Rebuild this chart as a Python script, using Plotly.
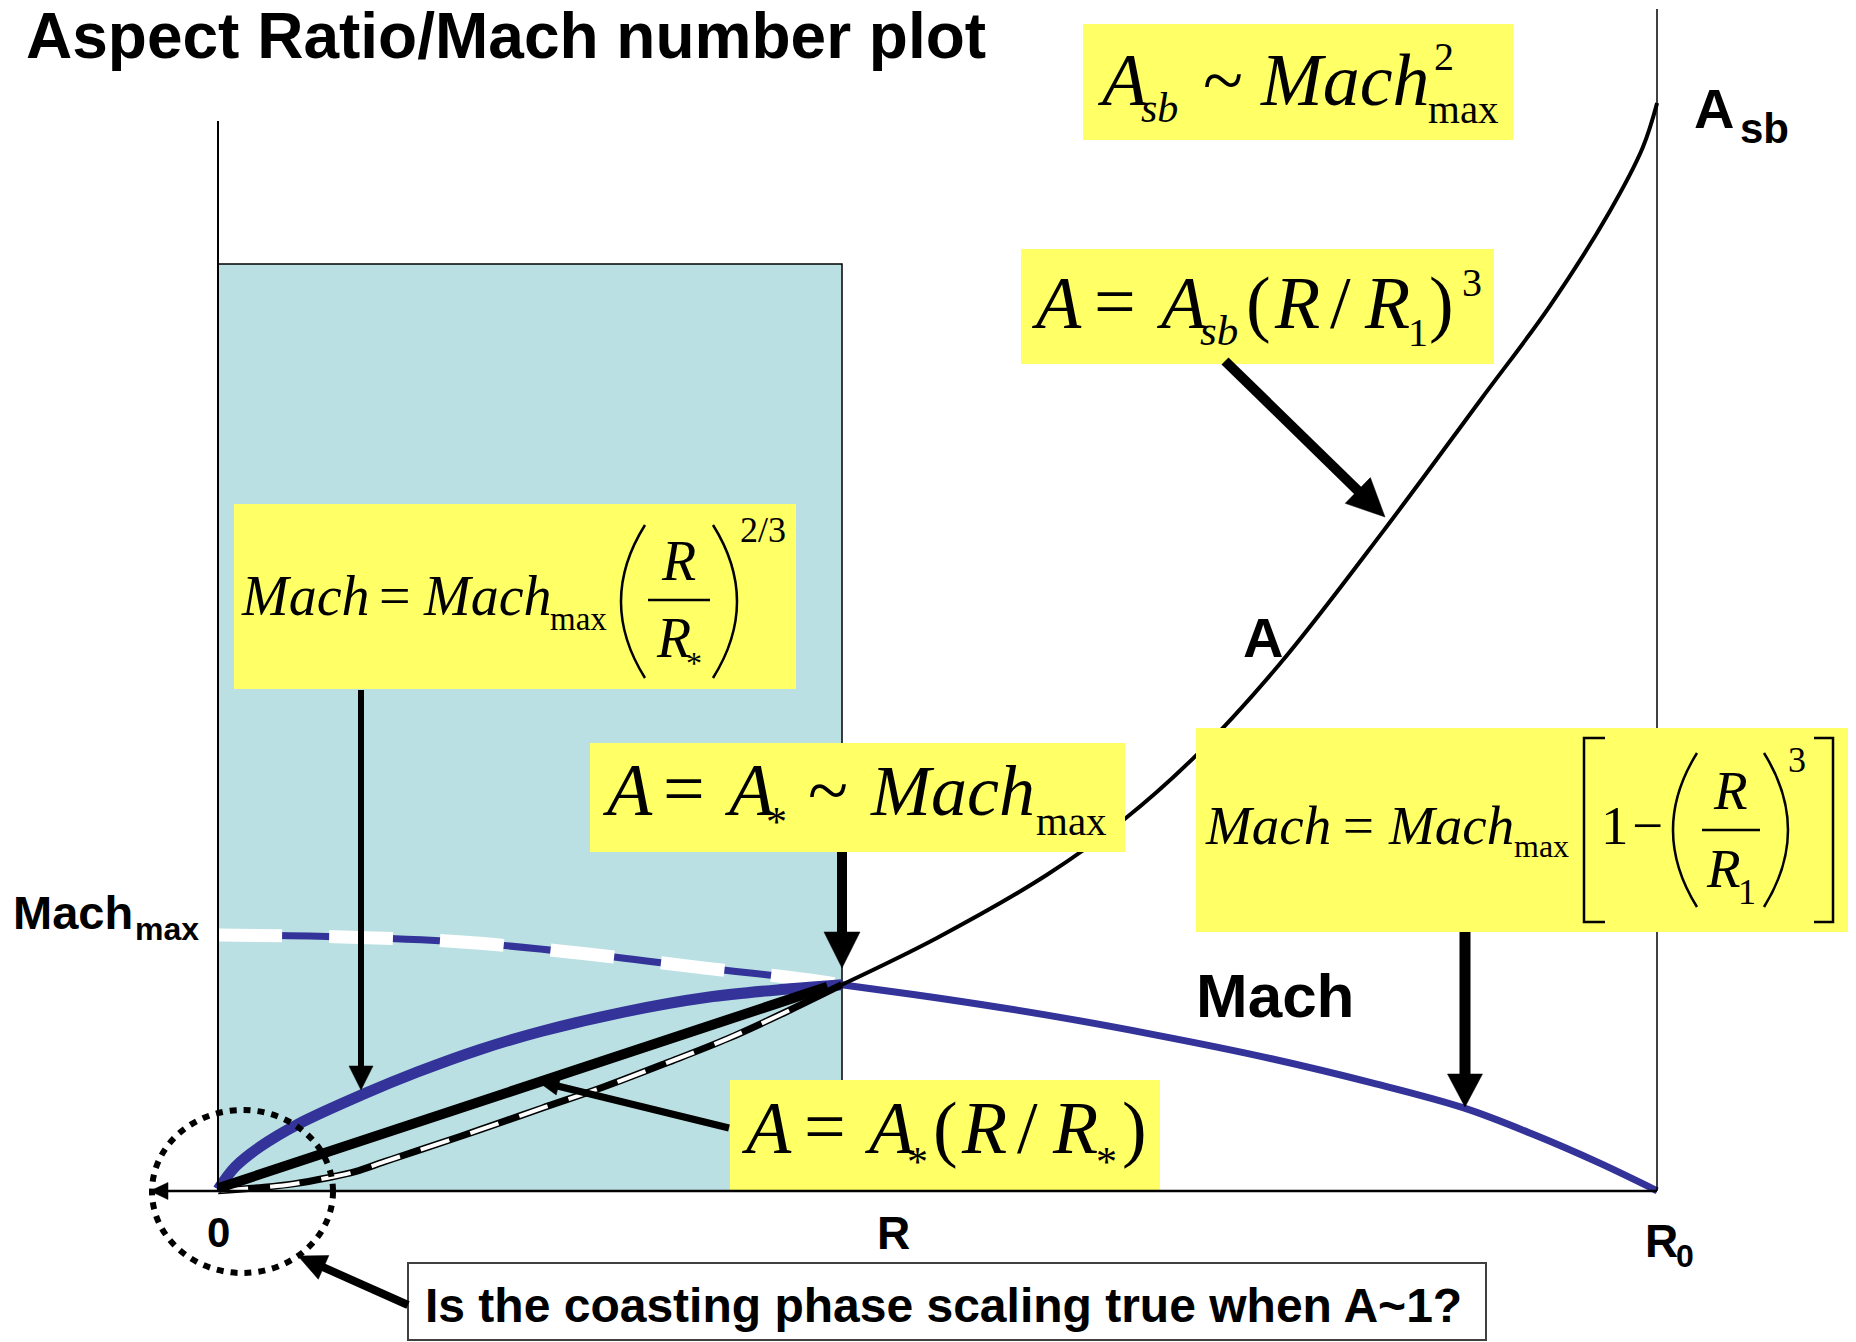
import math
import plotly.graph_objects as go

W, H = 1856, 1342
OFF = 8  # the page body margin pushes the figure 8px right and down

# x in units of R*, y in units of Mach_max (A curve shares the same y scale)
r_mach = [0.0, 0.187, 0.386, 0.585, 0.784, 0.917, 1.0, 1.154, 1.329, 1.502, 1.677, 1.850, 1.997, 2.111, 2.215, 2.307]
mach = [1.0, 0.994, 0.974, 0.928, 0.870, 0.834, 0.806, 0.754, 0.687, 0.610, 0.523, 0.422, 0.324, 0.218, 0.108, 0.0]

r_mach_coast = [0.0, 0.028, 0.068, 0.127, 0.234, 0.320, 0.419, 0.519, 0.652, 0.785, 0.917, 1.0]
mach_coast = [0.005, 0.095, 0.173, 0.259, 0.379, 0.465, 0.552, 0.624, 0.700, 0.757, 0.790, 0.806]

r_area = [1.0, 1.154, 1.329, 1.454, 1.571, 1.702, 1.868, 2.023, 2.135, 2.231, 2.284, 2.307]
area = [0.806, 0.991, 1.236, 1.455, 1.71, 2.06, 2.58, 3.09, 3.46, 3.83, 4.08, 4.254]

r_area_lin = [0.0, 0.977]
area_lin = [0.010, 0.798]

r_area_true = [0.0, 0.074, 0.121, 0.174, 0.220, 0.267, 0.320, 0.419, 0.519, 0.619, 0.718, 0.818, 0.917, 1.0]
area_true = [0.0, 0.014, 0.027, 0.050, 0.075, 0.114, 0.157, 0.238, 0.323, 0.407, 0.499, 0.596, 0.707, 0.806]

BLUE = "#333399"
YELLOW = "#FFFF66"
SHADE = "#BAE0E3"
SERIF = "Liberation Serif, Times New Roman, serif"
SANS = "Liberation Sans, Arial, sans-serif"


def px(x):
    return (x - OFF) / W


def py(y):
    return 1 - (y - OFF) / H


shapes = []
annotations = []


def rect(x0, y0, x1, y1, fill, line_color=None, lw=0, layer="above"):
    shapes.append(dict(type="rect", xref="paper", yref="paper",
                       x0=px(x0), x1=px(x1), y0=py(y1), y1=py(y0),
                       fillcolor=fill, layer=layer,
                       line=dict(color=line_color or fill, width=lw)))


def seg(x0, y0, x1, y1, w, color="black", layer="above"):
    shapes.append(dict(type="line", xref="paper", yref="paper",
                       x0=px(x0), y0=py(y0), x1=px(x1), y1=py(y1),
                       layer=layer, line=dict(color=color, width=w)))


def path(d, w=2.5, fill=None):
    shapes.append(dict(type="path", xref="paper", yref="paper", path=d, layer="above",
                       fillcolor=fill or "rgba(0,0,0,0)",
                       line=dict(color="black", width=w)))


def pt(x, y):
    return f"{px(x):.5f},{py(y):.5f}"


def arrow(x0, y0, x1, y1, w, hl, hw):
    dx, dy = x1 - x0, y1 - y0
    L = math.hypot(dx, dy)
    ux, uy = dx / L, dy / L
    bx, by = x1 - ux * hl, y1 - uy * hl
    seg(x0, y0, bx + ux * 3, by + uy * 3, w)
    nx, ny = -uy, ux
    d = (f"M {pt(x1, y1)} L {pt(bx + nx * hw / 2, by + ny * hw / 2)} "
         f"L {pt(bx - nx * hw / 2, by - ny * hw / 2)} Z")
    path(d, w=0.5, fill="black")


def paren(x_end, y0, y1, x_mid):
    xc = x_end + 2 * (x_mid - x_end)
    path(f"M {pt(x_end, y0)} Q {pt(xc, (y0 + y1) / 2)} {pt(x_end, y1)}", w=2.5)


def txt(s, x, base, size, style, anchor="left"):
    serif = style in ("i", "r")
    k = 0.3375 if serif else 0.3465
    if style == "i":
        s = f"<i>{s}</i>"
    elif style == "b":
        s = f"<b>{s}</b>"
    annotations.append(dict(x=px(x), y=py(base - k * size), xref="paper", yref="paper",
                            text=s, showarrow=False, xanchor=anchor, yanchor="middle",
                            borderpad=0, borderwidth=0,
                            font=dict(family=SERIF if serif else SANS, size=size, color="black")))


# background regions
rect(218, 264, 842, 1191, SHADE, "black", 1.5, layer="below")
seg(1657, 9, 1657, 1191, 1.5)

# yellow formula boxes
rect(1083, 24, 1513, 140, YELLOW)
rect(1021, 249, 1494, 364, YELLOW)
rect(234, 504, 796, 689, YELLOW)
rect(590, 743, 1125, 852, YELLOW)
rect(1196, 728, 1848, 932, YELLOW)
rect(730, 1080, 1160, 1190, YELLOW)

# axes
seg(218, 121, 218, 1191, 2)
seg(168, 1191, 1657, 1191, 2.5)
arrow(218, 1191, 150, 1191, 2, 18, 17)

# question box
rect(408, 1263, 1486, 1340, "white", "#404040", 2)

# dotted circle around origin
shapes.append(dict(type="circle", xref="paper", yref="paper", layer="above",
                   x0=px(152), x1=px(333), y0=py(1273), y1=py(1110),
                   line=dict(color="black", width=6, dash="7px,7px")))

# arrows
arrow(361, 690, 361, 1090, 6, 24, 24)
arrow(842, 852, 842, 968, 10, 36, 36)
arrow(1225, 361, 1385, 517, 10, 38, 36)
arrow(1465, 932, 1465, 1107, 11, 33, 35)
arrow(729, 1128, 537, 1081, 7, 22, 18)
arrow(408, 1305, 298, 1256, 8, 28, 26)

# title and labels
txt("Aspect Ratio/Mach number plot", 26, 58, 64, "b")
txt("Mach", 13, 929, 47, "b")
txt("max", 135, 940, 32, "b")
txt("0", 218, 1247, 42, "b", "center")
txt("R", 893, 1249, 46, "b", "center")
txt("R", 1645, 1257, 46, "b")
txt("0", 1676, 1267, 32, "b")
txt("A", 1694, 128, 56, "b")
txt("sb", 1740, 143, 42, "b")
txt("A", 1263, 657, 56, "b", "center")
txt("Mach", 1196, 1017, 62, "b")
txt("Is the coasting phase scaling true when A~1?", 425, 1322, 48, "b")

# box 1: A_sb ~ Mach^2_max
txt("A", 1097, 105, 74, "i")
txt("sb", 1141, 122, 42, "i")
txt("~", 1203, 105, 74, "r")
txt("Mach", 1260, 105, 74, "i")
txt("2", 1434, 70, 40, "r")
txt("max", 1428, 123, 41, "r")

# box 2: A = A_sb (R / R_1)^3
txt("A", 1031, 328, 74, "i")
txt("=", 1094, 326, 74, "r")
txt("A", 1156, 328, 74, "i")
txt("sb", 1200, 345, 43, "i")
txt("(", 1246, 328, 74, "r")
txt("R", 1274, 328, 74, "i")
txt("/", 1330, 328, 74, "r")
txt("R", 1364, 328, 74, "i")
txt("1", 1408, 346, 40, "r")
txt(")", 1429, 328, 74, "r")
txt("3", 1462, 296, 40, "r")

# box 3: Mach = Mach_max (R/R*)^(2/3)
txt("Mach", 241, 615, 56, "i")
txt("=", 379, 615, 56, "r")
txt("Mach", 423, 615, 56, "i")
txt("max", 550, 630, 33, "r")
paren(645, 525, 678, 621)
txt("R", 678, 580, 56, "i", "center")
seg(648, 600, 710, 600, 2.5)
txt("R", 656, 657, 56, "i")
txt("*", 686, 674, 32, "r")
paren(713, 525, 678, 737)
txt("2/3", 740, 542, 36, "r")

# box 4: A = A* ~ Mach_max
txt("A", 602, 815, 74, "i")
txt("=", 663, 813, 74, "r")
txt("A", 724, 815, 74, "i")
txt("*", 766, 836, 42, "r")
txt("~", 808, 815, 74, "r")
txt("Mach", 870, 815, 72, "i")
txt("max", 1036, 835, 41, "r")

# box 5: Mach = Mach_max [1 - (R/R1)^3]
txt("Mach", 1205, 844, 55, "i")
txt("=", 1343, 844, 55, "r")
txt("Mach", 1388, 844, 55, "i")
txt("max", 1514, 857, 32, "r")
path(f"M {pt(1605, 738)} L {pt(1584, 738)} L {pt(1584, 922)} L {pt(1605, 922)}", w=2.5)
txt("1", 1601, 844, 55, "r")
txt("\u2212", 1632, 844, 55, "r")
paren(1697, 753, 907, 1673)
txt("R", 1730, 809, 55, "i", "center")
seg(1702, 830, 1760, 830, 2.5)
txt("R", 1706, 887, 55, "i")
txt("1", 1738, 904, 36, "r")
paren(1764, 753, 907, 1788)
txt("3", 1788, 772, 36, "r")
path(f"M {pt(1814, 738)} L {pt(1833, 738)} L {pt(1833, 922)} L {pt(1814, 922)}", w=2.5)

# box 6: A = A*(R/R*)
txt("A", 741, 1153, 74, "i")
txt("=", 804, 1151, 74, "r")
txt("A", 864, 1153, 74, "i")
txt("*", 907, 1176, 42, "r")
txt("(", 933, 1153, 74, "r")
txt("R", 961, 1153, 74, "i")
txt("/", 1017, 1153, 74, "r")
txt("R", 1052, 1153, 74, "i")
txt("*", 1096, 1176, 42, "r")
txt(")", 1122, 1153, 74, "r")

fig = go.Figure()
fig.add_trace(go.Scatter(x=r_mach, y=mach, mode="lines", hoverinfo="skip",
                         line=dict(color=BLUE, width=7, shape="spline")))
fig.add_trace(go.Scatter(x=r_mach[:7], y=mach[:7], mode="lines", hoverinfo="skip",
                         line=dict(color="white", width=13, shape="spline", dash="64px,47px")))
fig.add_trace(go.Scatter(x=r_mach_coast, y=mach_coast, mode="lines", hoverinfo="skip",
                         line=dict(color=BLUE, width=11, shape="spline")))
fig.add_trace(go.Scatter(x=r_area_true, y=area_true, mode="lines", hoverinfo="skip",
                         line=dict(color="black", width=7, shape="spline")))
fig.add_trace(go.Scatter(x=r_area_true[:13], y=area_true[:13], mode="lines", hoverinfo="skip",
                         line=dict(color="white", width=4, shape="spline", dash="30px,22px")))
fig.add_trace(go.Scatter(x=r_area_lin, y=area_lin, mode="lines", hoverinfo="skip",
                         line=dict(color="black", width=10)))
fig.add_trace(go.Scatter(x=r_area, y=area, mode="lines", hoverinfo="skip",
                         line=dict(color="black", width=4, shape="spline")))

# data axes: x = 0 at screen x 218, 1 unit = 623.8px; y = 0 at screen y 1190.8, 1 unit = 255.7px
fig.update_layout(
    width=W, height=H,
    margin=dict(l=0, r=0, t=0, b=0),
    paper_bgcolor="white", plot_bgcolor="white",
    showlegend=False,
    xaxis=dict(range=[-(218 - OFF) / 623.8, (W - 218 + OFF) / 623.8], visible=False, fixedrange=True),
    yaxis=dict(range=[-(H - 1190.8 + OFF) / 255.7, (1190.8 - OFF) / 255.7], visible=False, fixedrange=True),
    shapes=shapes,
    annotations=annotations,
)

fig.write_html("out.html")
